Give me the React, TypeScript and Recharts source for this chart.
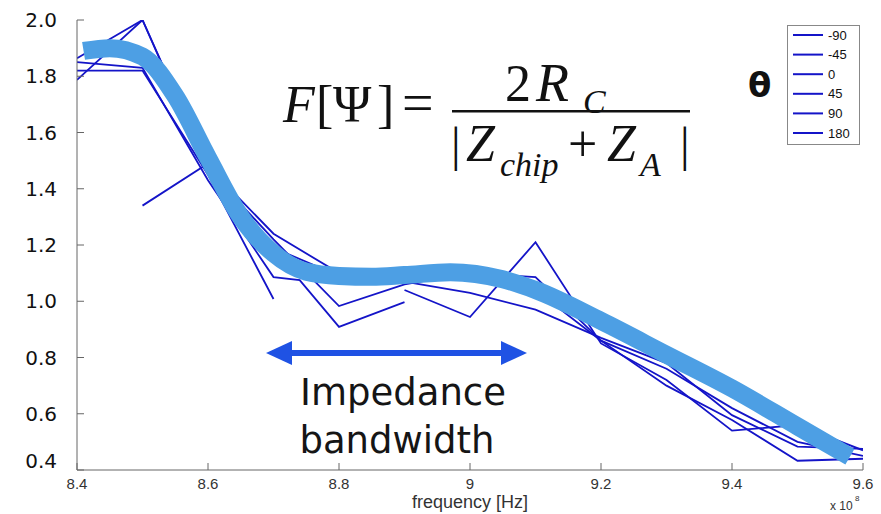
import React from "react";
import { LineChart, Line, XAxis, YAxis, Legend } from "recharts";

// axis ticks
const freqTicks = [8.4, 8.6, 8.8, 9, 9.2, 9.4, 9.6];
const ampTicks = [0.4, 0.6, 0.8, 1.0, 1.2, 1.4, 1.6, 1.8, 2.0];

// theta sweep (legend labels)
const thetaLabels = ["-90", "-45", "0", "45", "90", "180"];

// simulated curves, frequency in units of 1e8 Hz
const fullFreq = [8.4, 8.5, 8.6, 8.7, 8.8, 8.9, 9.0, 9.1, 9.2, 9.3, 9.4, 9.5, 9.6];
const ampM90 = [1.787, 2.0, 1.48, 1.24, 1.1, 1.07, 1.03, 0.97, 0.87, 0.78, 0.595, 0.483, 0.475];
const ampM45 = [1.864, 2.0, 1.47, 1.22, 0.983, 1.06, 1.1, 1.086, 0.86, 0.7, 0.578, 0.433, 0.44];
const freq0 = [8.4, 8.5, 8.6, 8.7, 8.74, 8.8, 8.9];
const amp0 = [1.85, 1.83, 1.43, 1.086, 1.075, 0.909, 0.997];
const freq45 = [8.4, 8.5, 8.6, 8.7];
const amp45 = [1.82, 1.82, 1.45, 1.008];
const freq90 = [8.5, 8.6, 8.7, 8.8, 8.9, 9.0, 9.1, 9.2, 9.3, 9.4, 9.5, 9.6];
const amp90 = [1.34, 1.49, 1.19, 1.09, 1.09, 1.08, 1.04, 0.86, 0.76, 0.62, 0.5, 0.45];
const freq180 = [8.9, 9.0, 9.1, 9.2, 9.3, 9.4, 9.5, 9.6];
const amp180 = [1.04, 0.944, 1.21, 0.85, 0.72, 0.54, 0.56, 0.47];

// smoothed trend (hand drawn thick curve)
const fitFreq = [8.41, 8.45, 8.5, 8.55, 8.6, 8.65, 8.7, 8.75, 8.8, 8.85, 8.9, 8.97, 9.05, 9.1, 9.2, 9.3, 9.4, 9.5, 9.58];
const fitAmp = [1.89, 1.9, 1.87, 1.73, 1.51, 1.3, 1.17, 1.105, 1.09, 1.087, 1.093, 1.103, 1.078, 1.04, 0.93, 0.81, 0.69, 0.555, 0.447];

const toPoints = (fs: number[], vs: number[]) => fs.map((f, i) => ({ f, v: vs[i] }));

const series = [
  toPoints(fullFreq, ampM90),
  toPoints(fullFreq, ampM45),
  toPoints(freq0, amp0),
  toPoints(freq45, amp45),
  toPoints(freq90, amp90),
  toPoints(freq180, amp180),
];
const fit = toPoints(fitFreq, fitAmp);

const THIN = "#1414c8";
const THICK = "#4d9fe4";
const AXIS = "#666";

const AmpTick = (props: any) => {
  const { x, y, payload } = props;
  const dy = payload.value <= 0.4 ? -9 : 0;
  return (
    <text
      x={x}
      y={y + dy}
      textAnchor="end"
      dominantBaseline="central"
      fontFamily="DejaVu Sans"
      fontSize={20}
      fill="#111"
    >
      {payload.value.toFixed(1)}
    </text>
  );
};

const renderLegend = (props: any) => {
  const items = (props.payload || [])
    .filter((p: any) => thetaLabels.includes(p.value))
    .sort((a: any, b: any) => thetaLabels.indexOf(a.value) - thetaLabels.indexOf(b.value));
  return (
    <svg width={74} height={121}>
      <rect x={0.5} y={0.5} width={72} height={119} fill="#fff" stroke="#888" />
      {items.map((p: any, i: number) => {
        const cy = 10 + i * 19.6;
        return (
          <g key={i}>
            <line x1={6} x2={36} y1={cy} y2={cy} stroke={p.color} strokeWidth={2} />
            <text
              x={41}
              y={cy}
              dominantBaseline="central"
              fontFamily="Liberation Sans"
              fontSize={13}
              fill="#111"
            >
              {p.value}
            </text>
          </g>
        );
      })}
    </svg>
  );
};

export default function App() {
  return (
    <div style={{ position: "absolute", left: 0, top: 0, width: 881, height: 514, background: "#fff" }}>
      <LineChart width={881} height={514} margin={{ top: 20, right: 18, bottom: 0, left: 0 }}>
        <XAxis
          xAxisId="x"
          dataKey="f"
          type="number"
          domain={[8.4, 9.6]}
          ticks={freqTicks}
          allowDataOverflow
          height={44}
          tickSize={-7}
          tickMargin={15}
          tickFormatter={(v) => String(Math.round(v * 10) / 10)}
          tick={{ fill: "#333", fontSize: 15, fontFamily: "Liberation Sans" }}
          axisLine={{ stroke: AXIS }}
          tickLine={{ stroke: AXIS }}
          label={{
            value: "frequency [Hz]",
            position: "insideBottom",
            offset: 6,
            fill: "#333",
            fontSize: 18,
            fontFamily: "Liberation Sans",
          }}
        />
        <XAxis
          xAxisId="t"
          dataKey="f"
          orientation="top"
          type="number"
          domain={[8.4, 9.6]}
          ticks={freqTicks}
          height={0}
          tick={false}
          tickSize={-7}
          axisLine={{ stroke: AXIS }}
          tickLine={{ stroke: AXIS }}
        />
        <YAxis
          yAxisId="y"
          type="number"
          domain={[0.4, 2.0]}
          ticks={ampTicks}
          allowDataOverflow
          width={77}
          tickSize={-7}
          tickMargin={27}
          tick={<AmpTick />}
          axisLine={{ stroke: AXIS }}
          tickLine={{ stroke: AXIS }}
        />
        <YAxis
          yAxisId="r"
          orientation="right"
          type="number"
          domain={[0.4, 2.0]}
          ticks={ampTicks}
          width={0}
          tick={false}
          tickSize={-7}
          axisLine={{ stroke: AXIS }}
          tickLine={{ stroke: AXIS }}
        />
        {series.map((d, i) => (
          <Line
            key={thetaLabels[i]}
            name={thetaLabels[i]}
            data={d}
            dataKey="v"
            xAxisId="x"
            yAxisId="y"
            type="linear"
            stroke={THIN}
            strokeWidth={1.8}
            dot={false}
            activeDot={false}
            isAnimationActive={false}
          />
        ))}
        <Line
          name="fit"
          data={fit}
          dataKey="v"
          xAxisId="x"
          yAxisId="y"
          type="monotone"
          stroke={THICK}
          strokeWidth={18}
          dot={false}
          activeDot={false}
          legendType="none"
          isAnimationActive={false}
        />
        <Legend
          layout="vertical"
          align="center"
          verticalAlign="middle"
          wrapperStyle={{ top: 25, left: 787, width: 74, height: 121 }}
          content={renderLegend}
        />
      </LineChart>

      <svg
        width={881}
        height={514}
        style={{ position: "absolute", left: 0, top: 0, pointerEvents: "none" }}
      >
        {/* formula */}
        <g fontFamily="Liberation Serif" fill="#111">
          <text x={283} y={122} fontSize={52} fontStyle="italic">F</text>
          <text x={316} y={122} fontSize={52}>[</text>
          <text x={333} y={122} fontSize={52}>Ψ</text>
          <text x={377} y={122} fontSize={52}>]</text>
          <text x={402} y={122} fontSize={56}>=</text>
          <text x={505} y={101} fontSize={52}>2</text>
          <text x={536} y={101} fontSize={54} fontStyle="italic">R</text>
          <text x={583} y={113} fontSize={34} fontStyle="italic">C</text>
          <rect x={452} y={110} width={238} height={2.5} />
          <text x={451} y={161} fontSize={48}>|</text>
          <text x={466} y={161} fontSize={52} fontStyle="italic">Z</text>
          <text x={500} y={176} fontSize={34} fontStyle="italic">chip</text>
          <text x={568} y={161} fontSize={52}>+</text>
          <text x={607} y={161} fontSize={52} fontStyle="italic">Z</text>
          <text x={640} y={176} fontSize={34} fontStyle="italic">A</text>
          <text x={680} y={161} fontSize={48}>|</text>
        </g>
        <text x={748} y={97} fontFamily="DejaVu Sans" fontWeight="bold" fontSize={34} fill="#111">
          θ
        </text>

        {/* bandwidth arrow */}
        <line x1={288} y1={353} x2={505} y2={353} stroke="#1f52e4" strokeWidth={6} />
        <polygon points="266,353 292,341 292,365" fill="#1f52e4" />
        <polygon points="527,353 501,341 501,365" fill="#1f52e4" />
        <g fontFamily="DejaVu Sans" fontSize={37} fill="#151515" textAnchor="middle">
          <text x={403} y={405}>Impedance</text>
          <text x={397} y={453}>bandwidth</text>
        </g>

        {/* exponent */}
        <text x={830} y={510} fontFamily="Liberation Sans" fontSize={12} fill="#333">
          x 10
        </text>
        <text x={855} y={501} fontFamily="Liberation Sans" fontSize={8} fill="#333">
          8
        </text>
      </svg>
    </div>
  );
}
